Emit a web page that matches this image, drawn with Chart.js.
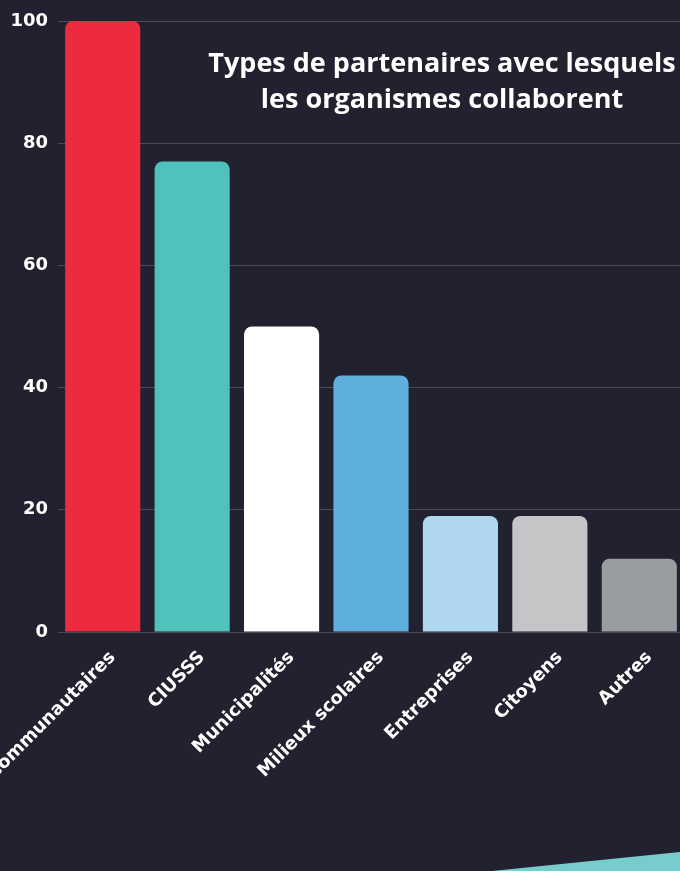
<!DOCTYPE html>
<html lang="fr">
<head>
<meta charset="utf-8">
<title>Types de partenaires</title>
<script src="https://cdn.jsdelivr.net/npm/chart.js@4.4.1/dist/chart.umd.min.js"></script>
<style>
    html, body {
        margin: 0;
        padding: 0;
        width: 680px;
        height: 871px;
        overflow: hidden;
        background: #22212f;
    }
    #wrap {
        position: absolute;
        left: 0;
        top: 0;
        width: 684px;
        height: 871px;
    }
    #title {
        position: absolute;
        left: 192px;
        width: 500px;
        top: 44px;
        text-align: center;
        color: #ffffff;
        font-family: "Open Sans", sans-serif;
        font-weight: 700;
        font-size: 27px;
        line-height: 36px;
    }
    #deco {
        position: absolute;
        left: 0;
        top: 0;
        width: 680px;
        height: 871px;
        background: #78cdcc;
        clip-path: polygon(492px 871px, 680px 852px, 680px 871px);
    }
</style>
</head>
<body>
<div id="wrap">
    <canvas id="myChart"></canvas>
</div>
<div id="title">Types de partenaires avec lesquels<br>les organismes collaborent</div>
<div id="deco"></div>

<script>
// data
const labels = ['Communautaires', 'CIUSSS', 'Municipalités', 'Milieux scolaires', 'Entreprises', 'Citoyens', 'Autres'];
const values = [100, 77, 50, 42, 19, 19, 12];
const barColors = ['#ee2a3f', '#4fc3bb', '#ffffff', '#5eaede', '#afd7f0', '#c4c5c7', '#9a9da0'];
const yTicks = [0, 20, 40, 60, 80, 100];

const tickFont = { family: '"DejaVu Sans", sans-serif', weight: 'bold', size: 18 };

// config
const config = {
    type: 'bar',
    data: {
        labels: labels,
        datasets: [{
            data: values,
            backgroundColor: barColors,
            borderWidth: 0,
            borderRadius: 8,
            barPercentage: 0.84,
            categoryPercentage: 1
        }]
    },
    options: {
        responsive: true,
        maintainAspectRatio: false,
        animation: false,
        layout: { padding: { top: 21, left: 0, right: 0, bottom: 0 } },
        plugins: {
            legend: { display: false },
            tooltip: { enabled: false }
        },
        scales: {
            x: {
                grid: { display: false },
                border: { display: false },
                ticks: {
                    color: '#ffffff',
                    font: tickFont,
                    minRotation: 45,
                    maxRotation: 45,
                    padding: 7,
                    labelOffset: 10,
                    autoSkip: false
                },
                afterFit: axis => {
                    axis.height = 871 - 632;
                    // long first label is allowed to run off the left edge
                    axis.paddingLeft = 0;
                    axis.paddingRight = 0;
                }
            },
            y: {
                min: 0,
                max: 100,
                afterBuildTicks: axis => { axis.ticks = yTicks.map(v => ({ value: v })); },
                grid: { color: '#4a4957', lineWidth: 1, drawTicks: false },
                border: { display: false },
                ticks: {
                    color: '#ffffff',
                    font: tickFont,
                    padding: 10
                },
                afterFit: axis => {
                    axis.width = 58;
                    axis.paddingTop = 0;
                    axis.paddingBottom = 0;
                }
            }
        }
    }
};

const myChart = new Chart(document.getElementById('myChart'), config);
</script>
</body>
</html>
